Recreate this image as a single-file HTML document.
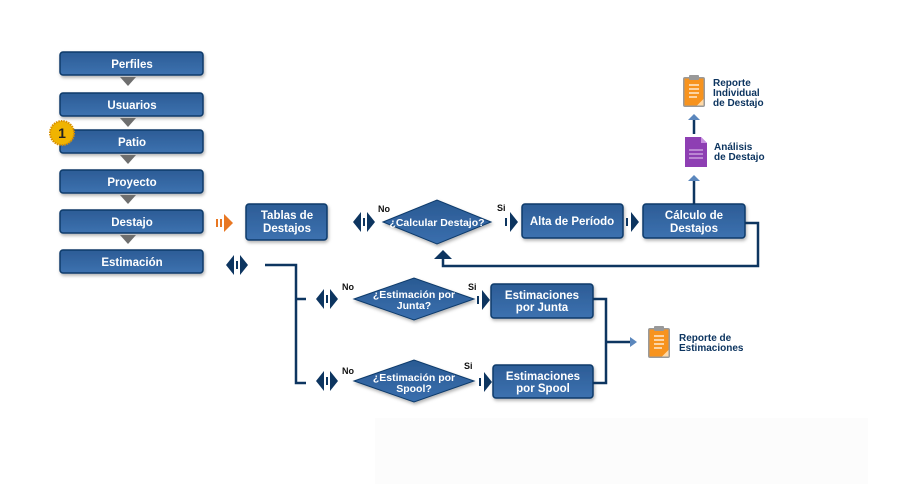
<!DOCTYPE html>
<html><head><meta charset="utf-8"><style>
html,body{margin:0;padding:0;background:#fff;width:903px;height:484px;overflow:hidden}
svg text{font-family:"Liberation Sans",sans-serif;font-weight:bold}
</style></head><body>
<svg width="903" height="484" viewBox="0 0 903 484" xmlns="http://www.w3.org/2000/svg">
<defs>
<linearGradient id="bg" x1="0" y1="0" x2="0" y2="1"><stop offset="0" stop-color="#2c5c96"/><stop offset="1" stop-color="#3d72b0"/></linearGradient>
<linearGradient id="dg" x1="0" y1="0" x2="0" y2="1"><stop offset="0" stop-color="#2a5a93"/><stop offset="1" stop-color="#3a6fae"/></linearGradient>
<filter id="sh" x="-20%" y="-30%" width="140%" height="170%"><feDropShadow dx="1" dy="2" stdDeviation="1.5" flood-color="#000" flood-opacity="0.3"/></filter>
<g id="dbl"><polygon points="-3,-10 -11,0 -3,10" fill="#0d3560"/><rect x="-1" y="-4" width="2" height="8" fill="#0d3560"/><polygon points="3,-10 11,0 3,10" fill="#0d3560"/></g>
<g id="rt"><rect x="0" y="-4" width="2" height="8" fill="#0d3560"/><polygon points="5,-10 13,0 5,10" fill="#0d3560"/></g>
<g id="clip"><rect x="0" y="2" width="22" height="30" rx="2" fill="#9a9a9a"/><rect x="1.5" y="3.5" width="19" height="27" fill="#f7931e"/><rect x="6" y="0" width="10" height="5" rx="1" fill="#999"/><path d="M14,30.5 L20.5,24 L20.5,30.5Z" fill="#ffd9a8"/><g stroke="#fff" stroke-width="1.2"><line x1="6" y1="10" x2="16" y2="10"/><line x1="6" y1="14" x2="16" y2="14"/><line x1="6" y1="18" x2="16" y2="18"/><line x1="6" y1="22" x2="14" y2="22"/></g></g>
</defs>
<rect x="375" y="418" width="493" height="66" fill="#fcfcfc"/>
<g filter="url(#sh)" stroke="#0e3a6b" stroke-width="1.5" fill="url(#bg)">
<rect x="60" y="52" width="143" height="23" rx="3"/>
<rect x="60" y="93" width="143" height="23" rx="3"/>
<rect x="60" y="130" width="143" height="23" rx="3"/>
<rect x="60" y="170" width="143" height="23" rx="3"/>
<rect x="60" y="210" width="143" height="23" rx="3"/>
<rect x="60" y="250" width="143" height="23" rx="3"/>
<rect x="246" y="204" width="81" height="36" rx="3"/>
<rect x="522" y="204" width="101" height="34" rx="3"/>
<rect x="643" y="204" width="102" height="34" rx="3"/>
<rect x="491" y="284" width="102" height="34" rx="3"/>
<rect x="493" y="365" width="100" height="33" rx="3"/>
</g>
<g fill="#6e6e6e">
<polygon points="120,77 136,77 128,86"/><polygon points="120,118 136,118 128,127"/><polygon points="120,155 136,155 128,164"/><polygon points="120,195 136,195 128,204"/><polygon points="120,235 136,235 128,244"/>
</g>
<g fill="#fff" font-size="11.5" text-anchor="middle">
<text x="132" y="68">Perfiles</text><text x="132" y="109">Usuarios</text><text x="132" y="146">Patio</text><text x="132" y="186">Proyecto</text><text x="132" y="226">Destajo</text><text x="132" y="266">Estimación</text>
<text x="287" y="219">Tablas de</text><text x="287" y="232">Destajos</text>
<text x="572" y="225">Alta de Período</text>
<text x="694" y="219">Cálculo de</text><text x="694" y="232">Destajos</text>
<text x="542" y="299">Estimaciones</text><text x="542" y="311">por Junta</text>
<text x="543" y="380">Estimaciones</text><text x="543" y="392">por Spool</text>
</g>
<circle cx="62" cy="133" r="12" fill="#f0b400" stroke="#d89000" stroke-width="2" stroke-dasharray="1.5 1"/>
<text x="62" y="138" font-size="14" text-anchor="middle" fill="#222">1</text>
<rect x="216" y="219" width="2" height="8" fill="#e87722"/><rect x="220" y="219" width="2" height="8" fill="#e87722"/><polygon points="224,214 233,223 224,232" fill="#e87722"/>
<g filter="url(#sh)" fill="url(#dg)" stroke="#0e3a6b" stroke-width="1">
<polygon points="383,222 437,200 491,222 437,244"/>
<polygon points="354,299 414,278 474,299 414,320"/>
<polygon points="354,381 414,360 474,381 414,402"/>
</g>
<g fill="#fff" font-size="10.5" text-anchor="middle">
<text x="437" y="226">¿Calcular Destajo?</text>
<text x="414" y="298">¿Estimación por</text><text x="414" y="309">Junta?</text>
<text x="414" y="381">¿Estimación por</text><text x="414" y="392">Spool?</text>
</g>
<g font-size="9" fill="#111"><text x="378" y="212">No</text><text x="497" y="211">Si</text><text x="342" y="290">No</text><text x="468" y="290">Si</text><text x="342" y="374">No</text><text x="464" y="369">Si</text></g>
<use href="#dbl" x="364" y="222"/><use href="#dbl" x="237" y="265"/><use href="#dbl" x="327" y="299"/><use href="#dbl" x="327" y="381"/>
<use href="#rt" x="505" y="222"/><use href="#rt" x="626" y="222"/><use href="#rt" x="477" y="300"/><use href="#rt" x="479" y="382"/>
<g stroke="#0d3560" stroke-width="2.5" fill="none">
<polyline points="745,223 758,223 758,266 443,266 443,258"/>
<polyline points="265,265 296,265 296,383 306,383"/><line x1="296" y1="299" x2="306" y2="299"/>
<polyline points="593,299 606,299 606,383 593,383"/><line x1="606" y1="342" x2="630" y2="342"/>
<line x1="694" y1="204" x2="694" y2="180"/><line x1="694" y1="134" x2="694" y2="120"/>
</g>
<polygon points="434,259 443,250 452,259" fill="#0d3560"/>
<polygon points="688,181 694,175 700,181" fill="#5b87bd"/>
<polygon points="688,120 694,114 700,120" fill="#5b87bd"/>
<polygon points="630,337 637,342 630,347" fill="#5b87bd"/>
<use href="#clip" x="683" y="75"/>
<use href="#clip" x="648" y="326"/>
<path d="M685,137 L701,137 L707,143 L707,167 L685,167Z" fill="#8e3fb3"/><path d="M701,137 L707,143 L701,143Z" fill="#c890e0"/>
<g stroke="#e6cdf2" stroke-width="1"><line x1="689" y1="150" x2="703" y2="150"/><line x1="689" y1="154" x2="703" y2="154"/><line x1="689" y1="158" x2="703" y2="158"/></g>
<g font-size="10" fill="#0d3560">
<text x="713" y="86">Reporte</text><text x="713" y="96">Individual</text><text x="713" y="106">de Destajo</text>
<text x="714" y="150">Análisis</text><text x="714" y="160">de Destajo</text>
<text x="679" y="341">Reporte de</text><text x="679" y="351">Estimaciones</text>
</g>
</svg>
</body></html>
